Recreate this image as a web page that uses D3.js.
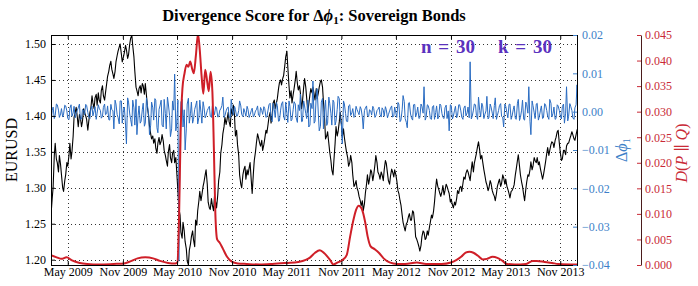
<!DOCTYPE html>
<html>
<head>
<meta charset="utf-8">
<script src="https://cdn.jsdelivr.net/npm/d3@7"></script>
<style>
  html, body { margin: 0; padding: 0; background: #fff; }
  svg { display: block; }
  text { font-family: "Liberation Serif", "DejaVu Serif", serif; }
</style>
</head>
<body>
<div id="chart"></div>
<script>
"use strict";

/* ===============================
   Data */

// two samples a week: Friday, then the Tuesday after it; first Friday below
let firstWeek = "2009-03-06";

// EURUSD, Fridays
let eurusd2009 = [1.262, 1.300, 1.362, 1.335, 1.345, 1.318, 1.295, 1.318, 1.330, 1.362,
  1.350, 1.398, 1.412, 1.385, 1.398, 1.392, 1.405, 1.395, 1.392, 1.410,
  1.418, 1.425, 1.415, 1.422, 1.435, 1.428, 1.432, 1.455, 1.470, 1.465,
  1.452, 1.475, 1.490, 1.500, 1.475, 1.488, 1.492, 1.485, 1.508, 1.498,
  1.462, 1.435, 1.438];
let eurusd2010 = [1.432, 1.442, 1.445, 1.412, 1.386, 1.368, 1.362, 1.355, 1.362, 1.360,
  1.374, 1.352, 1.338, 1.350, 1.342, 1.348, 1.335, 1.322, 1.272, 1.238,
  1.252, 1.225, 1.198, 1.213, 1.232, 1.228, 1.255, 1.268, 1.295, 1.290,
  1.308, 1.325, 1.280, 1.270, 1.276, 1.288, 1.272, 1.310, 1.348, 1.375,
  1.398, 1.395, 1.392, 1.410, 1.415, 1.372, 1.360, 1.318, 1.300, 1.325,
  1.312, 1.318, 1.335];
let eurusd2011 = [1.292, 1.338, 1.362, 1.370, 1.358, 1.352, 1.368, 1.376, 1.398, 1.390,
  1.418, 1.410, 1.424, 1.446, 1.443, 1.456, 1.482, 1.468, 1.425, 1.418,
  1.438, 1.462, 1.436, 1.432, 1.420, 1.452, 1.425, 1.416, 1.438, 1.440,
  1.422, 1.424, 1.440, 1.450, 1.420, 1.368, 1.378, 1.350, 1.325, 1.338,
  1.385, 1.378, 1.405, 1.370, 1.370, 1.350, 1.330, 1.345, 1.318, 1.304,
  1.300, 1.288];
let eurusd2012 = [1.275, 1.268, 1.292, 1.318, 1.312, 1.322, 1.318, 1.345, 1.322, 1.312,
  1.318, 1.325, 1.334, 1.310, 1.316, 1.322, 1.325, 1.310, 1.292, 1.276,
  1.252, 1.240, 1.252, 1.264, 1.255, 1.266, 1.232, 1.224, 1.212, 1.232,
  1.238, 1.230, 1.234, 1.252, 1.258, 1.280, 1.312, 1.298, 1.288, 1.303,
  1.296, 1.302, 1.292, 1.284, 1.272, 1.276, 1.296, 1.300, 1.295, 1.315,
  1.320, 1.322];
let eurusd2013 = [1.310, 1.336, 1.334, 1.348, 1.364, 1.340, 1.336, 1.318, 1.304, 1.300,
  1.306, 1.292, 1.282, 1.302, 1.312, 1.306, 1.314, 1.312, 1.298, 1.286,
  1.296, 1.304, 1.326, 1.346, 1.318, 1.302, 1.282, 1.308, 1.316, 1.336,
  1.330, 1.338, 1.342, 1.336, 1.320, 1.318, 1.336, 1.356, 1.352, 1.364,
  1.356, 1.370, 1.380, 1.350, 1.340, 1.352, 1.358, 1.362, 1.372, 1.374,
  1.366, 1.380];

// EURUSD, Tuesdays
let eurusdMid2009 = [1.285, 1.345, 1.340, 1.322, 1.332, 1.300, 1.310, 1.335, 1.345, 1.340,
  1.372, 1.405, 1.398, 1.402, 1.385, 1.410, 1.400, 1.380, 1.405, 1.428,
  1.410, 1.430, 1.432, 1.418, 1.442, 1.422, 1.445, 1.462, 1.476, 1.458,
  1.462, 1.484, 1.496, 1.486, 1.482, 1.498, 1.480, 1.500, 1.512, 1.482,
  1.440, 1.428, 1.442];
let eurusdMid2010 = [1.445, 1.430, 1.428, 1.400, 1.375, 1.372, 1.368, 1.348, 1.370, 1.365,
  1.365, 1.345, 1.330, 1.360, 1.335, 1.352, 1.342, 1.295, 1.262, 1.230,
  1.240, 1.215, 1.193, 1.222, 1.240, 1.218, 1.248, 1.282, 1.282, 1.302,
  1.318, 1.305, 1.272, 1.285, 1.268, 1.280, 1.290, 1.322, 1.360, 1.385,
  1.388, 1.405, 1.385, 1.402, 1.400, 1.380, 1.345, 1.305, 1.318, 1.330,
  1.325, 1.328, 1.310];
let eurusdMid2011 = [1.320, 1.350, 1.375, 1.362, 1.366, 1.360, 1.380, 1.388, 1.405, 1.402,
  1.422, 1.418, 1.438, 1.450, 1.452, 1.470, 1.490, 1.442, 1.435, 1.430,
  1.450, 1.445, 1.442, 1.410, 1.440, 1.440, 1.405, 1.430, 1.432, 1.430,
  1.438, 1.432, 1.448, 1.440, 1.395, 1.372, 1.362, 1.338, 1.318, 1.362,
  1.372, 1.392, 1.388, 1.382, 1.358, 1.342, 1.335, 1.335, 1.302, 1.310,
  1.295, 1.282];
let eurusdMid2012 = [1.282, 1.278, 1.305, 1.305, 1.325, 1.310, 1.332, 1.335, 1.318, 1.322,
  1.310, 1.338, 1.320, 1.305, 1.326, 1.315, 1.318, 1.296, 1.282, 1.262,
  1.245, 1.250, 1.260, 1.255, 1.268, 1.250, 1.228, 1.218, 1.220, 1.240,
  1.228, 1.240, 1.245, 1.262, 1.268, 1.300, 1.302, 1.292, 1.295, 1.290,
  1.305, 1.296, 1.280, 1.276, 1.280, 1.285, 1.292, 1.302, 1.306, 1.312,
  1.325, 1.315];
let eurusdMid2013 = [1.326, 1.322, 1.342, 1.358, 1.352, 1.345, 1.325, 1.308, 1.296, 1.310,
  1.296, 1.288, 1.292, 1.308, 1.302, 1.318, 1.305, 1.302, 1.292, 1.295,
  1.300, 1.318, 1.338, 1.330, 1.308, 1.290, 1.298, 1.318, 1.325, 1.325,
  1.342, 1.335, 1.332, 1.326, 1.312, 1.328, 1.348, 1.345, 1.360, 1.362,
  1.366, 1.378, 1.362, 1.338, 1.352, 1.346, 1.362, 1.368, 1.378, 1.368,
  1.374, 1.384];

// delta phi_1 in thousandths, Fridays
let dphi2009 = [-2.5, 1.2, -1.0, 1.8, -1.5, 0.8, -0.6, 1.5, -1.8, 0.9,
  -1.2, 1.4, -0.5, 1.0, -2.0, 0.6, -0.9, 1.6, -1.4, 0.7,
  -1.1, 1.3, -0.4, 0.9, -1.7, 1.1, -0.8, 1.5, -2.2, 0.6,
  -4.5, 2.0, -1.5, 2.8, -3.0, 1.2, -8.4, 2.5, -2.0, 3.0,
  -3.5, -6.0, 1.5];
let dphi2010 = [-2.5, 2.2, -3.0, 1.8, -6.0, 2.5, -2.2, 3.0, -5.5, 1.5,
  -3.5, 3.2, -4.5, 2.0, -6.5, 2.8, 9.8, -3.0, -39.0, 2.5,
  -4.0, -10.0, 2.0, -3.0, 2.5, -2.0, 1.5, -3.2, 3.0, -3.0,
  1.2, -1.0, 0.8, -1.2, 1.5, -0.8, 1.0, -1.3, 0.7, 3.8,
  -1.0, 0.9, -1.4, 3.2, -0.9, 0.6, -1.1, 2.8, -0.7, 0.8,
  -1.2, 0.6, -0.8];
let dphi2011 = [0.9, -1.0, 0.5, -0.9, 1.1, -0.7, 0.8, -1.3, 1.8, -2.0,
  2.2, -1.5, 1.6, -2.4, 2.0, -1.2, 2.5, -2.8, 1.4, -2.0,
  2.6, -1.6, 1.8, 4.6, -2.5, 1.5, -1.8, -4.0, 2.2, 8.0,
  -2.5, 6.0, -5.0, 2.5, -4.5, 3.0, -3.0, 2.2, -3.5, 2.5,
  -2.5, 4.0, -2.0, -8.4, 2.0, -2.5, 1.5, -1.0, 0.8, -1.2,
  0.6, -0.8];
let dphi2012 = [0.7, -4.5, 0.9, -1.0, 0.5, -0.9, 0.8, -1.1, 0.6, -0.7,
  1.0, -1.2, 0.5, -0.8, 0.9, -1.4, 1.2, -1.5, 2.0, -2.2,
  4.2, -1.8, -4.2, 2.4, -1.6, 1.8, -1.4, 1.2, -1.6, 1.4,
  6.5, -1.5, 1.6, -1.8, 1.2, -2.0, 1.5, -1.3, 1.7, -1.5,
  1.0, -1.8, -5.0, 1.6, -1.2, 1.4, -1.0, 1.8, -1.4, 0.9,
  -1.1, 1.2];
let dphi2013 = [13.0, -1.2, 2.0, -1.0, 3.8, -1.4, 1.5, -0.8, 4.0, -1.5,
  1.2, -1.8, 3.6, -1.0, 1.6, -1.2, -4.0, 1.4, -1.6, 2.0,
  -1.2, 1.5, -2.0, 3.2, -1.5, 3.0, -2.2, 1.8, 6.5, -6.0,
  1.6, -1.8, 2.2, -1.3, 1.5, -1.6, 1.8, -1.2, 3.2, -1.4,
  1.2, -1.8, 1.5, -1.0, 1.3, -3.0, 6.5, -1.2, 1.4, -1.6,
  1.0, 7.0];

// delta phi_1 in thousandths, Tuesdays
let dphiMid2009 = [0.3, -1.8, 2.0, 0.4, -0.6, -1.4, 1.7, 0.2, -2.1, 1.8,
  -0.3, -1.6, 0.4, 2.0, -1.9, 0.3, 1.9, -0.2, -1.8, 1.5,
  0.2, -2.0, 1.8, 0.3, -1.2, 2.0, -0.5, -2.1, 1.9, 0.2,
  3.0, -0.8, -3.2, 2.8, 0.6, -3.5, 3.6, -0.6, -3.8, 1.0,
  3.2, -1.0, -3.0];
let dphiMid2010 = [0.5, -3.8, 3.6, -0.8, -3.5, 1.0, 3.4, -4.2, 0.6, 3.0,
  -4.0, -0.5, 3.8, -1.0, -4.5, 0.4, -5.0, 3.0, -8.0, 3.2,
  0.5, -4.5, 3.5, -0.4, -3.0, 0.6, 2.8, -1.5, -0.3, 2.6,
  -1.6, 0.3, 1.4, -1.5, 0.2, 1.3, -1.4, 0.4, 1.6, -1.5,
  0.2, 1.2, -1.6, 0.5, 1.4, -1.2, 0.3, 1.5, -1.3, -0.2,
  1.4, -1.5, 0.3];
let dphiMid2011 = [-1.4, 0.2, 1.5, -1.2, 0.3, 1.3, -1.5, 0.4, 2.2, -2.6,
  0.5, 2.4, -2.5, 0.4, 2.6, -2.2, -0.5, 2.8, -2.4, 0.6,
  2.0, -2.8, 0.3, -2.6, 2.8, -0.5, 3.0, -3.5, 0.8, -3.0,
  4.2, -0.6, -3.8, 3.5, 0.5, -3.6, 3.8, -0.4, 3.0, -3.5,
  0.6, 3.4, -3.2, 2.8, -0.5, -2.6, 1.8, -0.3, -1.5, 1.4,
  -0.2, 1.3];
let dphiMid2012 = [-1.4, 0.3, 1.5, -1.3, 0.2, 1.4, -1.5, 0.3, 1.2, -1.4,
  0.4, 1.3, -1.6, 0.2, 1.5, -1.2, -0.4, 2.4, -2.6, 0.5,
  2.6, -2.8, 2.2, -0.6, -2.2, 1.9, -0.3, -1.8, 2.0, -0.4,
  -2.2, 1.8, 0.3, -2.0, 1.6, -0.2, -1.9, 2.0, -0.5, -1.8,
  1.7, 0.2, 1.8, -1.9, 0.4, -1.6, 1.8, 0.2, -2.0, 1.5,
  -0.3, -1.6];
let dphiMid2013 = [-1.9, 0.4, 1.8, -2.0, 0.3, 2.2, -1.8, 0.2, -1.9, 2.0,
  -0.4, 1.6, -2.0, 0.3, 2.1, -1.6, 2.0, -0.3, 1.9, -2.0,
  0.5, -1.8, 2.2, -2.3, 0.4, -2.0, 2.5, -0.4, -2.5, 2.8,
  -0.3, 2.0, -2.2, 0.4, -1.8, 2.1, 0.3, -2.0, 2.2, -0.4,
  -2.0, 1.8, 0.3, -1.9, 2.0, -0.4, -2.4, 2.1, 0.3, -2.0,
  1.8, -1.9];

// divergence D(P||Q), smooth curve
let divDates = ["2009-03-06", "2009-03-25", "2009-04-10", "2009-04-27", "2009-05-15",
  "2009-06-10", "2009-07-05", "2009-08-15", "2009-10-01", "2009-11-05",
  "2009-11-26", "2009-12-20", "2010-01-15", "2010-02-10", "2010-03-05",
  "2010-04-01", "2010-04-25", "2010-05-02", "2010-05-08", "2010-05-13",
  "2010-05-19", "2010-05-26", "2010-06-02", "2010-06-08", "2010-06-14",
  "2010-06-20", "2010-06-26", "2010-07-03", "2010-07-10", "2010-07-16",
  "2010-07-22", "2010-07-28", "2010-08-03", "2010-08-09", "2010-08-15",
  "2010-08-21", "2010-08-27", "2010-09-01", "2010-09-06", "2010-09-12",
  "2010-09-20", "2010-10-01", "2010-10-15", "2010-11-01", "2010-11-20",
  "2010-12-20", "2011-02-01", "2011-03-15", "2011-05-01", "2011-06-10",
  "2011-07-05", "2011-07-20", "2011-08-05", "2011-08-21", "2011-09-05",
  "2011-09-24", "2011-10-05", "2011-10-20", "2011-11-05", "2011-11-19",
  "2011-11-30", "2011-12-10", "2011-12-20", "2011-12-29", "2012-01-08",
  "2012-01-19", "2012-01-28", "2012-02-06", "2012-02-20", "2012-03-05",
  "2012-03-21", "2012-04-10", "2012-05-05", "2012-06-01", "2012-07-10",
  "2012-08-10", "2012-10-01", "2012-11-01", "2012-11-20", "2012-12-05",
  "2012-12-20", "2013-01-02", "2013-01-15", "2013-01-30", "2013-02-15",
  "2013-03-01", "2013-03-20", "2013-04-05", "2013-04-20", "2013-05-07",
  "2013-06-01", "2013-07-10", "2013-08-01", "2013-08-15", "2013-09-10",
  "2013-10-05", "2013-10-25", "2013-12-27"];
let divValues = [0.0019, 0.0015, 0.0012, 0.0015, 0.0009,
  0.0004, 0.0002, 0.0001, 0.0002, 0.0003,
  0.0007, 0.0013, 0.0015, 0.0013, 0.0008,
  0.0004, 0.0003, 0.0005, 0.0100, 0.0260,
  0.0345, 0.0375, 0.0392, 0.0388, 0.0398,
  0.0385, 0.0375, 0.0410, 0.0452, 0.0420,
  0.0370, 0.0335, 0.0382, 0.0362, 0.0340,
  0.0378, 0.0340, 0.0230, 0.0100, 0.0050,
  0.0044, 0.0032, 0.0016, 0.0006, 0.0003,
  0.0002, 0.0001, 0.0002, 0.0004, 0.0006,
  0.0010, 0.0015, 0.0024, 0.0029, 0.0023,
  0.0010, 0.0001, 0.0005, 0.0010, 0.0020,
  0.0055, 0.0085, 0.0108, 0.0116, 0.0110,
  0.0085, 0.0055, 0.0037, 0.0031, 0.0024,
  0.0013, 0.0005, 0.0002, 0.0002, 0.0005,
  0.0002, 0.0002, 0.0005, 0.0010, 0.0016,
  0.0024, 0.0026, 0.0024, 0.0018, 0.0011,
  0.0012, 0.0016, 0.0014, 0.0009, 0.0002,
  0.0001, 0.0002, 0.0008, 0.0008, 0.0006,
  0.0004, 0.0002, 0.0001];

/* Tick values */
let monthTicks = ["2009-05-01", "2009-11-01", "2010-05-01", "2010-11-01", "2011-05-01",
  "2011-11-01", "2012-05-01", "2012-11-01", "2013-05-01", "2013-11-01"];
let eurTicks = [1.20, 1.25, 1.30, 1.35, 1.40, 1.45, 1.50];
let dphiTicks = [-0.04, -0.03, -0.02, -0.01, 0.00, 0.01, 0.02];
let divTicks = [0, 0.005, 0.010, 0.015, 0.020, 0.025, 0.030, 0.035, 0.040, 0.045];

/* ===============================
   Layout */
let svgWidth = 698;
let svgHeight = 286;
let plotLeft = 51;
let plotRight = 577;
let plotTop = 35;
let plotBottom = 265;
let redAxisX = 641;

let blueLine = "#2a6cc2";
let blueText = "#3d7fc8";
let redLine = "#cf1f28";
let redText = "#c92a36";
let noteColor = "#5a32be";

let parseDate = d3.timeParse("%Y-%m-%d");
let startDate = parseDate(firstWeek);

/* Interleave Friday and Tuesday samples into one dated series */
function twiceWeekly(fri, mid) {
  let out = [];
  fri.forEach(function (v, i) {
    let d = d3.timeDay.offset(startDate, 7 * i);
    out.push({ date: d, value: v });
    out.push({ date: d3.timeDay.offset(d, 4), value: mid[i] });
  });
  return out;
}

let eurusd = twiceWeekly(
  [].concat(eurusd2009, eurusd2010, eurusd2011, eurusd2012, eurusd2013),
  [].concat(eurusdMid2009, eurusdMid2010, eurusdMid2011, eurusdMid2012, eurusdMid2013));
let dphi = twiceWeekly(
  [].concat(dphi2009, dphi2010, dphi2011, dphi2012, dphi2013),
  [].concat(dphiMid2009, dphiMid2010, dphiMid2011, dphiMid2012, dphiMid2013));

let svg = d3.select("#chart")
  .append("svg")
  .attr("width", svgWidth)
  .attr("height", svgHeight);

/* Scales */
let xScale = d3.scaleTime()
  .domain([parseDate("2009-03-06"), parseDate("2013-12-27")])
  .range([plotLeft, plotRight]);

let yEur = d3.scaleLinear()
  .domain([1.1926, 1.5125])
  .range([plotBottom, plotTop]);

let yDphi = d3.scaleLinear()
  .domain([-0.04, 0.02])
  .range([plotBottom, plotTop]);

let yDiv = d3.scaleLinear()
  .domain([0, 0.045])
  .range([plotBottom, plotTop]);

/* Grid (dotted) */
let grid = svg.append("g")
  .attr("stroke", "#333")
  .attr("stroke-width", 1)
  .attr("stroke-dasharray", "1,3")
  .attr("shape-rendering", "crispEdges");

grid.selectAll("line.v")
  .data(monthTicks)
  .join("line")
  .attr("class", "v")
  .attr("x1", function (d) { return Math.round(xScale(parseDate(d))) + 0.5; })
  .attr("x2", function (d) { return Math.round(xScale(parseDate(d))) + 0.5; })
  .attr("y1", plotTop)
  .attr("y2", plotBottom);

grid.selectAll("line.h")
  .data(eurTicks)
  .join("line")
  .attr("class", "h")
  .attr("x1", plotLeft)
  .attr("x2", plotRight)
  .attr("y1", function (d) { return Math.round(yEur(d)) + 0.5; })
  .attr("y2", function (d) { return Math.round(yEur(d)) + 0.5; });

/* Clip to plot area */
svg.append("clipPath")
  .attr("id", "plotClip")
  .append("rect")
  .attr("x", plotLeft)
  .attr("y", plotTop)
  .attr("width", plotRight - plotLeft)
  .attr("height", plotBottom - plotTop);

let marks = svg.append("g").attr("clip-path", "url(#plotClip)");

/* EURUSD (black) */
let eurLine = d3.line()
  .x(function (d) { return xScale(d.date); })
  .y(function (d) { return yEur(d.value); });

marks.append("path")
  .datum(eurusd)
  .attr("fill", "none")
  .attr("stroke", "#000")
  .attr("stroke-width", 1.1)
  .attr("stroke-linejoin", "round")
  .attr("d", eurLine);

/* delta phi (blue) */
let dphiLine = d3.line()
  .x(function (d) { return xScale(d.date); })
  .y(function (d) { return yDphi(d.value / 1000); });

marks.append("path")
  .datum(dphi)
  .attr("fill", "none")
  .attr("stroke", blueLine)
  .attr("stroke-width", 1)
  .attr("d", dphiLine);

/* divergence (red) */
let divLine = d3.line()
  .x(function (d, i) { return xScale(parseDate(divDates[i])); })
  .y(function (d) { return yDiv(d); })
  .curve(d3.curveMonotoneX);

marks.append("path")
  .datum(divValues)
  .attr("fill", "none")
  .attr("stroke", redLine)
  .attr("stroke-width", 2)
  .attr("d", divLine);

/* Plot frame */
svg.append("rect")
  .attr("x", plotLeft + 0.5)
  .attr("y", plotTop + 0.5)
  .attr("width", plotRight - plotLeft)
  .attr("height", plotBottom - plotTop)
  .attr("fill", "none")
  .attr("stroke", "#000")
  .attr("stroke-width", 1);

/* Axes */
function styleAxis(g, color) {
  g.attr("font-size", 12)
    .attr("font-family", "Liberation Serif, DejaVu Serif, serif")
    .attr("color", color);
}

let monthDates = monthTicks.map(parseDate);

let bottomAxis = svg.append("g")
  .attr("transform", "translate(0," + plotBottom + ")")
  .call(d3.axisBottom(xScale)
    .tickValues(monthDates)
    .tickFormat(d3.timeFormat("%b %Y"))
    .tickSize(-4)
    .tickSizeOuter(0)
    .tickPadding(2));
styleAxis(bottomAxis, "#000");
bottomAxis.select(".domain").remove();

let topAxis = svg.append("g")
  .attr("transform", "translate(0," + plotTop + ")")
  .call(d3.axisTop(xScale)
    .tickValues(monthDates)
    .tickFormat("")
    .tickSize(-4)
    .tickSizeOuter(0));
topAxis.select(".domain").remove();

let leftAxis = svg.append("g")
  .attr("transform", "translate(" + plotLeft + ",0)")
  .call(d3.axisLeft(yEur)
    .tickValues(eurTicks)
    .tickFormat(d3.format(".2f"))
    .tickSize(-4)
    .tickSizeOuter(0)
    .tickPadding(5));
styleAxis(leftAxis, "#000");
leftAxis.select(".domain").remove();

let blueAxis = svg.append("g")
  .attr("transform", "translate(" + plotRight + ",0)")
  .call(d3.axisRight(yDphi)
    .tickValues(dphiTicks)
    .tickFormat(d3.format(".2f"))
    .tickSize(-4)
    .tickSizeOuter(0)
    .tickPadding(5));
styleAxis(blueAxis, blueText);
blueAxis.select(".domain").remove();

let redAxis = svg.append("g")
  .attr("transform", "translate(" + redAxisX + ",0)")
  .call(d3.axisRight(yDiv)
    .tickValues(divTicks)
    .tickFormat(d3.format(".3f"))
    .tickSize(-4)
    .tickSizeOuter(0)
    .tickPadding(4));
styleAxis(redAxis, redText);
redAxis.select(".domain").attr("stroke", "#4a1c1c");

/* Title */
let title = svg.append("text")
  .attr("x", (plotLeft + plotRight) / 2)
  .attr("y", 21)
  .attr("text-anchor", "middle")
  .attr("font-size", 16.5)
  .attr("font-weight", "bold");
title.append("tspan").text("Divergence Score for \u0394");
title.append("tspan").attr("font-style", "italic").text("\u03d5");
title.append("tspan").attr("font-size", 11).attr("dy", 3).text("1");
title.append("tspan").attr("dy", -3).text(": Sovereign Bonds");

/* Axis titles */
svg.append("text")
  .attr("transform", "translate(17,150) rotate(-90)")
  .attr("text-anchor", "middle")
  .attr("font-size", 16)
  .text("EURUSD");

let dphiLabel = svg.append("text")
  .attr("transform", "translate(627,150) rotate(-90)")
  .attr("text-anchor", "middle")
  .attr("font-size", 16)
  .attr("fill", blueText);
dphiLabel.append("tspan").text("\u0394");
dphiLabel.append("tspan").attr("font-style", "italic").text("\u03d5");
dphiLabel.append("tspan").attr("font-size", 11).attr("dy", 3).text("1");

let divLabel = svg.append("text")
  .attr("transform", "translate(687,153) rotate(-90)")
  .attr("text-anchor", "middle")
  .attr("font-size", 16)
  .attr("fill", redText);
divLabel.append("tspan").attr("font-style", "italic").text("D");
divLabel.append("tspan").text("(");
divLabel.append("tspan").attr("font-style", "italic").text("P");
divLabel.append("tspan").text(" \u2225 ");
divLabel.append("tspan").attr("font-style", "italic").text("Q");
divLabel.append("tspan").text(")");

/* n / k annotation */
svg.append("text")
  .attr("x", 421)
  .attr("y", 53)
  .attr("font-size", 19)
  .attr("font-weight", "bold")
  .attr("fill", noteColor)
  .attr("word-spacing", 2)
  .text("n = 30");

svg.append("text")
  .attr("x", 498)
  .attr("y", 53)
  .attr("font-size", 19)
  .attr("font-weight", "bold")
  .attr("fill", noteColor)
  .attr("word-spacing", 2)
  .text("k = 30");
</script>
</body>
</html>
